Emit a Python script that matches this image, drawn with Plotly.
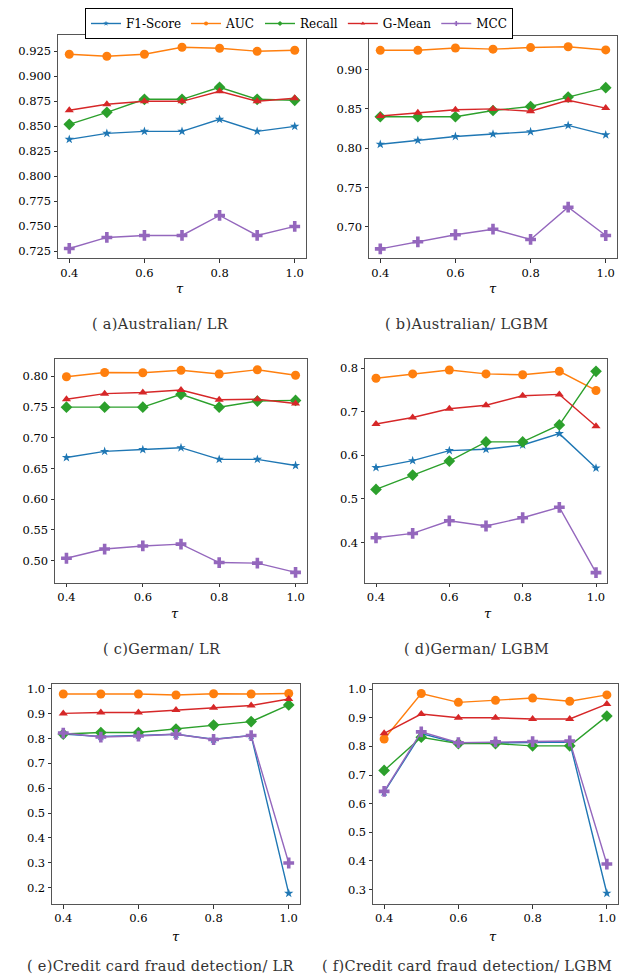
import plotly.graph_objects as go

W, H = 619, 978

tau = [0.4, 0.5, 0.6, 0.7, 0.8, 0.9, 1.0]
metrics = ["F1-Score", "AUC", "Recall", "G-Mean", "MCC"]

# (a) Australian/LR
a_f1 = [0.837, 0.843, 0.845, 0.845, 0.857, 0.845, 0.850]
a_auc = [0.922, 0.920, 0.922, 0.929, 0.928, 0.925, 0.926]
a_recall = [0.852, 0.864, 0.877, 0.877, 0.889, 0.877, 0.876]
a_gmean = [0.866, 0.872, 0.875, 0.875, 0.885, 0.875, 0.878]
a_mcc = [0.728, 0.739, 0.741, 0.741, 0.761, 0.741, 0.750]

# (b) Australian/LGBM
b_f1 = [0.805, 0.810, 0.815, 0.818, 0.821, 0.829, 0.817]
b_auc = [0.9245, 0.9245, 0.9275, 0.926, 0.928, 0.929, 0.925]
b_recall = [0.840, 0.840, 0.840, 0.848, 0.853, 0.865, 0.877]
b_gmean = [0.841, 0.845, 0.849, 0.850, 0.847, 0.861, 0.851]
b_mcc = [0.672, 0.681, 0.690, 0.697, 0.684, 0.725, 0.689]

# (c) German/LR
c_f1 = [0.668, 0.678, 0.681, 0.684, 0.665, 0.665, 0.655]
c_auc = [0.7995, 0.8065, 0.806, 0.810, 0.804, 0.811, 0.802]
c_recall = [0.750, 0.750, 0.750, 0.771, 0.750, 0.760, 0.761]
c_gmean = [0.763, 0.772, 0.774, 0.778, 0.762, 0.763, 0.756]
c_mcc = [0.504, 0.519, 0.524, 0.527, 0.497, 0.496, 0.481]

# (d) German/LGBM
d_f1 = [0.572, 0.588, 0.611, 0.614, 0.624, 0.650, 0.571]
d_auc = [0.777, 0.787, 0.796, 0.787, 0.785, 0.793, 0.749]
d_recall = [0.522, 0.555, 0.587, 0.631, 0.631, 0.670, 0.793]
d_gmean = [0.672, 0.687, 0.707, 0.715, 0.737, 0.740, 0.667]
d_mcc = [0.411, 0.421, 0.450, 0.438, 0.457, 0.481, 0.331]

# (e) Credit card fraud detection/LR
e_f1 = [0.818, 0.808, 0.812, 0.817, 0.797, 0.812, 0.177]
e_auc = [0.979, 0.979, 0.979, 0.975, 0.980, 0.979, 0.981]
e_recall = [0.818, 0.824, 0.824, 0.838, 0.854, 0.868, 0.935]
e_gmean = [0.901, 0.905, 0.905, 0.915, 0.924, 0.933, 0.959]
e_mcc = [0.822, 0.806, 0.810, 0.817, 0.796, 0.812, 0.299]

# (f) Credit card fraud detection/LGBM
f_f1 = [0.640, 0.845, 0.811, 0.813, 0.813, 0.815, 0.287]
f_auc = [0.826, 0.985, 0.954, 0.961, 0.969, 0.958, 0.980]
f_recall = [0.716, 0.832, 0.810, 0.810, 0.802, 0.802, 0.906]
f_gmean = [0.846, 0.913, 0.900, 0.900, 0.896, 0.896, 0.948]
f_mcc = [0.643, 0.851, 0.813, 0.816, 0.817, 0.819, 0.389]

panels = [
    ("( a)Australian/ LR", [a_f1, a_auc, a_recall, a_gmean, a_mcc]),
    ("( b)Australian/ LGBM", [b_f1, b_auc, b_recall, b_gmean, b_mcc]),
    ("( c)German/ LR", [c_f1, c_auc, c_recall, c_gmean, c_mcc]),
    ("( d)German/ LGBM", [d_f1, d_auc, d_recall, d_gmean, d_mcc]),
    ("( e)Credit card fraud detection/ LR", [e_f1, e_auc, e_recall, e_gmean, e_mcc]),
    ("( f)Credit card fraud detection/ LGBM", [f_f1, f_auc, f_recall, f_gmean, f_mcc]),
]

colors = ["#1f77b4", "#ff7f0e", "#2ca02c", "#d62728", "#9467bd"]
symbols = ["star", "circle", "diamond", "triangle-up", "cross"]
msizes = [7, 9, 9, 8, 9]

# layout geometry in pixels: (x0, x1, y0_top, y1_bottom)
boxes = [
    (58, 306, 33, 257),
    (369, 617, 34, 257),
    (55, 307, 358, 582),
    (365, 607, 358, 582),
    (52, 300, 683, 904),
    (373, 618, 683, 904),
]
yranges = [
    (0.718, 0.9413),
    (0.6598, 0.9428),
    (0.464, 0.828),
    (0.3077, 0.8206),
    (0.1335, 1.021),
    (0.249, 1.0195),
]
yticks = [
    ([0.725, 0.75, 0.775, 0.8, 0.825, 0.85, 0.875, 0.9, 0.925], ".3f"),
    ([0.70, 0.75, 0.80, 0.85, 0.90], ".2f"),
    ([0.50, 0.55, 0.60, 0.65, 0.70, 0.75, 0.80], ".2f"),
    ([0.4, 0.5, 0.6, 0.7, 0.8], ".1f"),
    ([0.2, 0.3, 0.4, 0.5, 0.6, 0.7, 0.8, 0.9, 1.0], ".1f"),
    ([0.3, 0.4, 0.5, 0.6, 0.7, 0.8, 0.9, 1.0], ".1f"),
]
tau_pos = [(180, 287), (493, 287), (175, 613), (488, 613), (176, 936), (493, 936)]
cap_pos = [(160, 323), (466, 323), (162, 648), (476, 648), (160, 966), (467, 966)]

FONT = "DejaVu Serif"

fig = go.Figure()
layout = dict(
    width=W, height=H,
    margin=dict(l=0, r=0, t=0, b=0),
    paper_bgcolor="white", plot_bgcolor="white",
    font=dict(family=FONT, size=12, color="black"),
    showlegend=True,
)
annotations = []

for i, (cap, series) in enumerate(panels):
    ax = "" if i == 0 else str(i + 1)
    for j, vals in enumerate(series):
        fig.add_trace(go.Scatter(
            x=tau, y=vals, mode="lines+markers",
            line=dict(color=colors[j], width=1.4),
            marker=dict(symbol=symbols[j], size=msizes[j], color=colors[j],
                        line=dict(width=0)),
            name=metrics[j], showlegend=False,
            xaxis="x" + ax, yaxis="y" + ax,
        ))
    x0, x1, y0, y1 = boxes[i]
    tv, fmt = yticks[i]
    layout["xaxis" + ax] = dict(
        domain=[x0 / W, x1 / W], range=[0.37, 1.03],
        tickvals=[0.4, 0.6, 0.8, 1.0], tickformat=".1f",
        showgrid=False, zeroline=False, showline=True, mirror=True,
        linecolor="#555", linewidth=1, ticks="outside", ticklen=3.5,
        tickcolor="#333", tickfont=dict(family=FONT, size=11.5),
        anchor="y" + ax,
    )
    layout["yaxis" + ax] = dict(
        domain=[1 - y1 / H, 1 - y0 / H], range=list(yranges[i]),
        tickvals=tv, tickformat=fmt,
        showgrid=False, zeroline=False, showline=True, mirror=True,
        linecolor="#555", linewidth=1, ticks="outside", ticklen=3.5,
        tickcolor="#333", tickfont=dict(family=FONT, size=11.5),
        anchor="x" + ax,
    )
    tx, ty = tau_pos[i]
    annotations.append(dict(
        text="<i>τ</i>", x=tx / W, y=1 - ty / H, xref="paper", yref="paper",
        showarrow=False, font=dict(family="DejaVu Serif", size=13),
        xanchor="center", yanchor="middle",
    ))
    cx, cy = cap_pos[i]
    annotations.append(dict(
        text='<span style="letter-spacing:0.3px">' + cap + "</span>",
        x=cx / W, y=1 - cy / H, xref="paper", yref="paper",
        showarrow=False,
        font=dict(family=FONT, size=14.5, color="#333"),
        xanchor="center", yanchor="middle",
    ))

# legend entries (small markers as in the reference legend)
for j in range(5):
    fig.add_trace(go.Scatter(
        x=[None], y=[None], mode="lines+markers",
        line=dict(color=colors[j], width=1.4),
        marker=dict(symbol=symbols[j], size=4, color=colors[j]),
        name=metrics[j], showlegend=True,
    ))

layout["legend"] = dict(
    orientation="h", x=299 / W, y=1 - 6 / H, xanchor="center", yanchor="top",
    bordercolor="black", borderwidth=1, bgcolor="white",
    font=dict(family=FONT, size=12), itemwidth=30,
    tracegroupgap=0,
)
layout["annotations"] = annotations
fig.update_layout(**layout)
fig.write_html("out.html")
